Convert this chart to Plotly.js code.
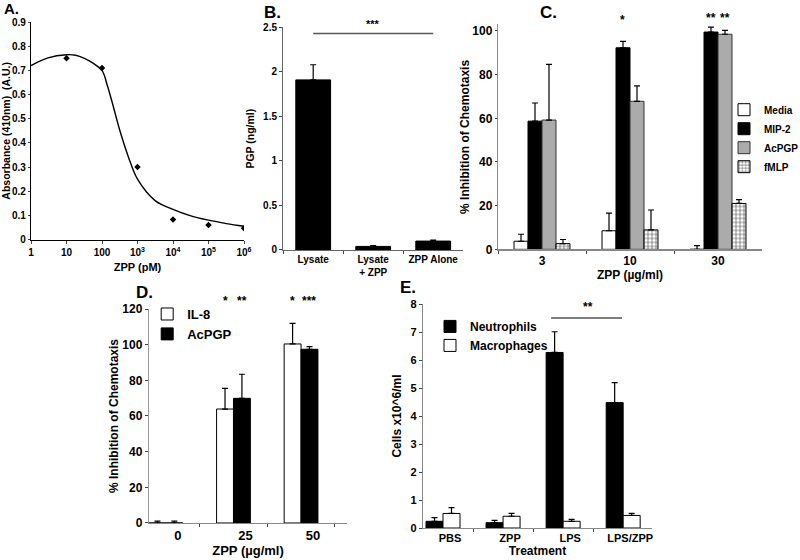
<!DOCTYPE html>
<html>
<head>
<meta charset="utf-8">
<script src="https://cdn.plot.ly/plotly-3.0.1.min.js"></script>
<style>
  html, body { margin: 0; padding: 0; background: #fff; }
  #fig { width: 800px; height: 560px; }
</style>
</head>
<body>
<div id="fig"></div>
<script>
// ---- A: absorbance vs ZPP dose
const aDose = [10, 100, 1000, 10000, 100000, 1000000];
const aAbsorbance = [0.75, 0.71, 0.30, 0.083, 0.06, 0.047];
const aFitDose = [1, 3, 10, 18, 32, 56, 100, 140, 200, 320, 560, 1000, 3200, 10000, 32000, 100000, 320000, 1000000];
const aFitAbs = [0.72, 0.752, 0.765, 0.763, 0.75, 0.73, 0.70, 0.64, 0.56, 0.45, 0.34, 0.25, 0.16, 0.125, 0.098, 0.08, 0.066, 0.055];

// ---- B: PGP
const bGroups = ['Lysate', 'Lysate<br>+ ZPP', 'ZPP Alone'];
const bPGP = [1.91, 0.04, 0.10];
const bErr = [0.17, 0.01, 0.01];

// ---- C: inhibition of chemotaxis
const cDoses = ['3', '10', '30'];
const cMedia = [3.7, 8.5, 0];
const cMediaErr = [3.2, 8.1, 1.7];
const cMIP2 = [58.7, 92.3, 99.5];
const cMIP2Err = [8.3, 2.9, 2.3];
const cAcPGP = [59.2, 67.8, 98.5];
const cAcPGPErr = [25.5, 7.1, 1.8];
const cFMLP = [2.6, 8.9, 21];
const cFMLPErr = [1.9, 9.1, 1.8];

// ---- D
const dDoses = ['0', '25', '50'];
const dIL8 = [0, 63.9, 100.4];
const dIL8Err = [1, 11.6, 11.6];
const dAcPGP = [0, 69.9, 97.4];
const dAcPGPErr = [1, 13.5, 1.5];

// ---- E
const eTreat = ['PBS', 'ZPP', 'LPS', 'LPS/ZPP'];
const eNeutro = [0.24, 0.19, 6.27, 4.48];
const eNeutroErr = [0.13, 0.08, 0.74, 0.71];
const eMacro = [0.52, 0.42, 0.24, 0.45];
const eMacroErr = [0.21, 0.10, 0.07, 0.07];

const FONT = 'Liberation Sans, Arial, sans-serif';
const bold = (size) => ({ family: FONT, size: size, color: '#000', weight: 'bold' });

function errUp(arr) {
  return { type: 'data', symmetric: false, array: arr, arrayminus: arr.map(() => 0),
           color: '#000', thickness: 1.2, width: 3 };
}
const line = (c) => ({ color: c || '#000', width: 1 });

const traces = [
  // A
  { type: 'scatter', mode: 'lines', x: aFitDose, y: aFitAbs, xaxis: 'x', yaxis: 'y',
    line: { color: '#000', width: 1.4, shape: 'spline' }, showlegend: false, hoverinfo: 'skip' },
  { type: 'scatter', mode: 'markers', x: aDose, y: aAbsorbance, xaxis: 'x', yaxis: 'y',
    marker: { symbol: 'diamond', size: 5, color: '#000' }, showlegend: false },

  // B
  { type: 'bar', x: bGroups, y: bPGP, xaxis: 'x2', yaxis: 'y2', width: 0.58, offset: -0.29,
    marker: { color: '#000', line: line() }, error_y: errUp(bErr), showlegend: false },

  // C
  { type: 'bar', name: 'Media', x: cDoses, y: cMedia, xaxis: 'x3', yaxis: 'y3', width: 0.159, offset: -0.318,
    marker: { color: '#fff', line: line() }, error_y: errUp(cMediaErr), legend: 'legend2' },
  { type: 'bar', name: 'MIP-2', x: cDoses, y: cMIP2, xaxis: 'x3', yaxis: 'y3', width: 0.159, offset: -0.159,
    marker: { color: '#000', line: line() }, error_y: errUp(cMIP2Err), legend: 'legend2' },
  { type: 'bar', name: 'AcPGP', x: cDoses, y: cAcPGP, xaxis: 'x3', yaxis: 'y3', width: 0.159, offset: 0,
    marker: { color: '#ababab', line: line('#333') }, error_y: errUp(cAcPGPErr), legend: 'legend2' },
  { type: 'bar', name: 'fMLP', x: cDoses, y: cFMLP, xaxis: 'x3', yaxis: 'y3', width: 0.159, offset: 0.159,
    marker: { color: '#fff', line: line(),
              pattern: { shape: '+', size: 4, solidity: 0.25, fgcolor: '#333', bgcolor: '#fff' } },
    error_y: errUp(cFMLPErr), legend: 'legend2' },

  // D
  { type: 'bar', name: 'IL-8', x: dDoses, y: dIL8, xaxis: 'x4', yaxis: 'y4', width: 0.25, offset: -0.25,
    marker: { color: '#fff', line: line() }, error_y: errUp(dIL8Err), legend: 'legend3' },
  { type: 'bar', name: 'AcPGP', x: dDoses, y: dAcPGP, xaxis: 'x4', yaxis: 'y4', width: 0.25, offset: 0,
    marker: { color: '#000', line: line() }, error_y: errUp(dAcPGPErr), legend: 'legend3' },

  // E
  { type: 'bar', name: 'Neutrophils', x: eTreat, y: eNeutro, xaxis: 'x5', yaxis: 'y5', width: 0.283, offset: -0.283,
    marker: { color: '#000', line: line() }, error_y: errUp(eNeutroErr), legend: 'legend4' },
  { type: 'bar', name: 'Macrophages', x: eTreat, y: eMacro, xaxis: 'x5', yaxis: 'y5', width: 0.283, offset: 0,
    marker: { color: '#fff', line: line() }, error_y: errUp(eMacroErr), legend: 'legend4' }
];

const axBase = {
  showgrid: false, zeroline: false, showline: true, linewidth: 1.2,
  ticks: 'outside', ticklen: 3, tickwidth: 1, tickfont: bold(11), fixedrange: true
};

const legBase = {
  xanchor: 'left', yanchor: 'top', bgcolor: 'rgba(0,0,0,0)', borderwidth: 0,
  tracegroupgap: 0, itemclick: false, itemdoubleclick: false
};

const star = (text, xref, x, y, size) => ({
  text: text, xref: xref, yref: 'paper', x: x, y: y,
  xanchor: 'center', yanchor: 'middle', showarrow: false, font: bold(size)
});
const letter = (text, x, y) => ({
  text: text, xref: 'paper', yref: 'paper', x: x, y: y,
  xanchor: 'left', yanchor: 'middle', showarrow: false, font: bold(17)
});

const layout = {
  width: 800, height: 560,
  margin: { l: 0, r: 0, t: 0, b: 0, autoexpand: false },
  paper_bgcolor: '#fff', plot_bgcolor: 'rgba(0,0,0,0)',
  font: bold(11),
  barmode: 'group',

  // A
  xaxis: Object.assign({}, axBase, {
    domain: [0.03875, 0.305], anchor: 'y', type: 'log', range: [0, 6],
    linecolor: '#000', tickvals: [1, 10, 100, 1e3, 1e4, 1e5, 1e6],
    ticktext: ['1', '10', '100', '10<sup>3</sup>', '10<sup>4</sup>', '10<sup>5</sup>', '10<sup>6</sup>'],
    tickfont: bold(10), title: { text: 'ZPP (pM)', font: bold(11), standoff: 6 }
  }),
  yaxis: Object.assign({}, axBase, {
    domain: [0.5723, 0.9605], anchor: 'x', range: [0, 0.9], dtick: 0.1, ticklen: 2,
    linecolor: '#000', tickfont: bold(10), tickformat: '.1~f',
    title: { text: 'Absorbance (410nm)  (A.U.)', font: bold(10.5), standoff: 0 }
  }),

  // B
  xaxis2: Object.assign({}, axBase, {
    domain: [0.354, 0.579], anchor: 'y2', type: 'category', range: [-0.5, 2.5],
    linecolor: '#666', tickson: 'boundaries', tickfont: bold(10), tickangle: 0
  }),
  yaxis2: Object.assign({}, axBase, {
    domain: [0.5536, 0.9512], anchor: 'x2', range: [0, 2.5], dtick: 0.5,
    linecolor: '#666', tickfont: bold(10),
    title: { text: 'PGP (ng/ml)', font: bold(10.5), standoff: 6 }
  }),

  // C
  xaxis3: Object.assign({}, axBase, {
    domain: [0.6225, 0.9525], anchor: 'y3', type: 'category', range: [-0.5, 2.5],
    linecolor: '#888', tickson: 'boundaries', tickfont: bold(12), tickangle: 0,
    title: { text: 'ZPP (µg/ml)', font: bold(12), standoff: 0 }
  }),
  yaxis3: Object.assign({}, axBase, {
    domain: [0.5548, 0.9564], anchor: 'x3', range: [0, 103], tickvals: [0, 20, 40, 60, 80, 100],
    linecolor: '#888', tickfont: bold(12), ticklen: 2,
    title: { text: '% Inhibition of Chemotaxis', font: bold(12), standoff: 0 }
  }),

  // D
  xaxis4: Object.assign({}, axBase, {
    domain: [0.18625, 0.43375], anchor: 'y4', type: 'category', range: [-0.25, 2.68],
    linecolor: '#888', tickson: 'boundaries', tickfont: bold(13), ticklabelshift: 12, tickangle: 0,
    title: { text: 'ZPP (µg/ml)', font: bold(13), standoff: 4 }
  }),
  yaxis4: Object.assign({}, axBase, {
    domain: [0.0661, 0.4482], anchor: 'x4', range: [0, 120], dtick: 20,
    linecolor: '#999', tickfont: bold(12),
    title: { text: '% Inhibition of Chemotaxis', font: bold(12), standoff: 1 }
  }),

  // E
  xaxis5: Object.assign({}, axBase, {
    domain: [0.52875, 0.815], anchor: 'y5', type: 'category', range: [-0.333, 3.48],
    linecolor: '#888', tickson: 'boundaries', tickfont: bold(11), ticklabelshift: 7, tickangle: 0,
    title: { text: 'Treatment', font: bold(12), standoff: 0 }
  }),
  yaxis5: Object.assign({}, axBase, {
    domain: [0.0571, 0.4571], anchor: 'x5', range: [0, 8], dtick: 1,
    linecolor: '#888', tickfont: bold(11),
    title: { text: 'Cells x10^6/ml', font: bold(12), standoff: 6 }
  }),

  legend2: Object.assign({}, legBase, { x: 0.905, y: 0.83, font: bold(10) }),
  legend3: Object.assign({}, legBase, { x: 0.184, y: 0.466, font: bold(13) }),
  legend4: Object.assign({}, legBase, { x: 0.5375, y: 0.443, font: bold(12) }),

  shapes: [
    { type: 'line', xref: 'x2', yref: 'y2', x0: 0, x1: 2, y0: 2.43, y1: 2.43, line: { color: '#555', width: 1.5 } },
    { type: 'line', xref: 'x5', yref: 'y5', x0: 1.8, x1: 2.98, y0: 7.5, y1: 7.5, line: { color: '#555', width: 1.5 } }
  ],

  annotations: [
    { text: 'A.', xref: 'paper', yref: 'paper', x: 0.002, y: 1, xanchor: 'left', yanchor: 'top',
      height: 13, valign: 'middle', showarrow: false, font: bold(15) },
    letter('B.', 0.328, 0.978),
    letter('C.', 0.673, 0.978),
    letter('D.', 0.168, 0.477),
    letter('E.', 0.497, 0.486),
    // significance marks
    star('***', 'x2', 1, 0.957, 11),
    star('*', 'x3', 0.92, 0.964, 12),
    star('**', 'x3', 1.92, 0.968, 12),
    star('**', 'x3', 2.08, 0.968, 12),
    star('*', 'x4', 0.875, 0.462, 12),
    star('**', 'x4', 1.125, 0.462, 12),
    star('*', 'x4', 1.875, 0.462, 12),
    star('***', 'x4', 2.125, 0.462, 12),
    star('**', 'x5', 2.42, 0.452, 12)
  ]
};

Plotly.newPlot('fig', traces, layout, { displayModeBar: false, staticPlot: true });
</script>
</body>
</html>
